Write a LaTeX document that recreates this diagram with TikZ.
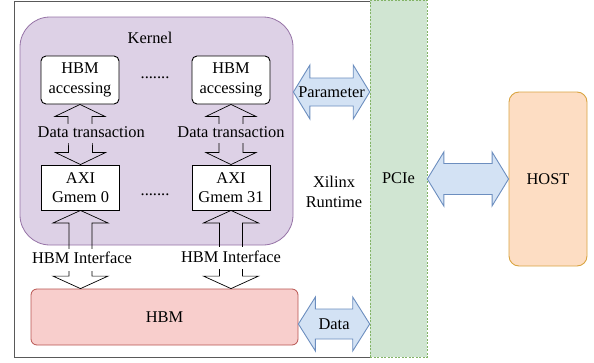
\documentclass[tikz,border=0pt]{standalone}
\usepackage{fontspec}
\setmainfont{Liberation Serif}
\usetikzlibrary{calc}

\definecolor{kfill}{HTML}{DDD1E6}
\definecolor{kline}{HTML}{9673A6}
\definecolor{hfill}{HTML}{F8CECC}
\definecolor{hline}{HTML}{B85450}
\definecolor{pfill}{HTML}{D0E5D2}
\definecolor{pline}{HTML}{82B366}
\definecolor{ofill}{HTML}{FDDDC3}
\definecolor{oline}{HTML}{D9A441}
\definecolor{afill}{HTML}{D3E2F4}
\definecolor{aline}{HTML}{6C8EBF}

% vertical block arrow: top tip, bottom tip, half head, half shaft, head length
\newcommand{\vblock}[5]{\draw[blockarr] (#1) -- ++(-#3,#5) -- ++(#3-#4,0) -- ($(#2)+(-#4,-#5)$) -- ++(#4-#3,0) -- (#2) -- ++(#3,-#5) -- ++(#4-#3,0) -- ($(#1)+(#4,#5)$) -- ++(#3-#4,0) -- cycle;}
% horizontal block arrow: left tip, right tip, half head, half shaft, head length
\newcommand{\hblock}[5]{\draw[bluearr] (#1) -- ++(#5,-#3) -- ++(0,#3-#4) -- ($(#2)+(-#5,-#4)$) -- ++(0,#4-#3) -- (#2) -- ++(-#5,#3) -- ++(0,#4-#3) -- ($(#1)+(#5,#4)$) -- ++(0,#3-#4) -- cycle;}

\begin{document}
\begin{tikzpicture}[x=1pt,y=-1pt,
    font=\fontsize{16.4}{19.5}\selectfont,
    box/.style={draw, line width=0.9pt, fill=white, minimum width=78pt, align=center, inner sep=0pt},
    lab/.style={inner sep=0pt, align=center},
    band/.style={inner sep=0pt, text height=12pt, text depth=4pt, minimum height=19pt},
    blockarr/.style={draw, line width=0.7pt},
    bluearr/.style={draw=aline, fill=afill, line width=0.9pt}]
    \useasboundingbox (0,0) rectangle (594,362);
    % FPGA side
    \node[draw=black!65, line width=1pt, minimum width=356pt, minimum height=356pt, inner sep=0pt] (fpga) at (192,179) {};
    \node[draw=kline, fill=kfill, line width=0.8pt, rounded corners=30pt, minimum width=273pt, minimum height=228pt] (kernel) at (156.5,131) {};
    \node[lab] (klabel) at (150,38) {Kernel};
    \node[box, rounded corners=5pt, minimum height=48pt] (acc0) at (80,80) {HBM\\accessing};
    \node[box, rounded corners=5pt, minimum height=48pt] (acc31) at (231,80) {HBM\\accessing};
    \node[lab] (dotsa) at (155,78) {.......};
    \node[box, minimum height=45pt] (axi0) at (80.5,187.5) {AXI\\Gmem 0};
    \node[box, minimum height=45pt] (axi31) at (231,187.5) {AXI\\Gmem 31};
    \node[lab] (dotsb) at (155,195) {.......};
    \node[draw=hline, fill=hfill, line width=0.8pt, rounded corners=6pt, minimum width=267pt, minimum height=56pt] (hbm) at (164.5,317) {HBM};
    \node[lab] (xrt) at (334,192) {Xilinx\\Runtime};
    % PCIe and host
    \node[draw=pline, fill=pfill, line width=0.6pt, dash pattern=on 2pt off 1.5pt, minimum width=57pt, minimum height=357pt] (pcie) at (398.5,178.5) {PCIe};
    \node[draw=oline, fill=ofill, line width=0.9pt, rounded corners=10pt, minimum width=78pt, minimum height=174pt] (host) at (548,179) {HOST};
    % data transactions
    \vblock{acc0.south}{axi0.north}{25}{12}{12}
    \vblock{acc31.south}{axi31.north}{25}{12}{12}
    \node[band, fill=kfill] (dt0) at ($(acc0.south)!0.48!(axi0.north)+(11,0)$) {Data transaction};
    \node[band, fill=kfill] (dt31) at ($(acc31.south)!0.48!(axi31.north)$) {Data transaction};
    % HBM interfaces
    \vblock{axi0.south}{axi0.south |- hbm.north}{27.5}{11.5}{12.5}
    \vblock{axi31.south}{axi31.south |- hbm.north}{27.5}{11.5}{12.5}
    \node[band, fill=white, minimum height=22pt] (hi0) at ($(axi0.south)!0.63!(axi0.south |- hbm.north)+(1.5,0)$) {HBM Interface};
    \node[band, fill=white, minimum height=22pt] (hi31) at ($(axi31.south)!0.61!(axi31.south |- hbm.north)$) {HBM Interface};
    % links to PCIe
    \coordinate (pin) at (kernel.east |- 0,92);
    \coordinate (din) at (hbm.east |- 0,324);
    \hblock{pin}{pcie.west |- pin}{27}{14}{16.5}
    \hblock{din}{pcie.west |- din}{27}{15}{17}
    \hblock{pcie.east |- host.west}{host.west}{27}{15.5}{16.5}
    \node[lab] (par) at ($(pin)!0.5!(pcie.west |- pin)$) {Parameter};
    \node[lab] (dat) at ($(din)!0.5!(pcie.west |- din)$) {Data};
\end{tikzpicture}
\end{document}
